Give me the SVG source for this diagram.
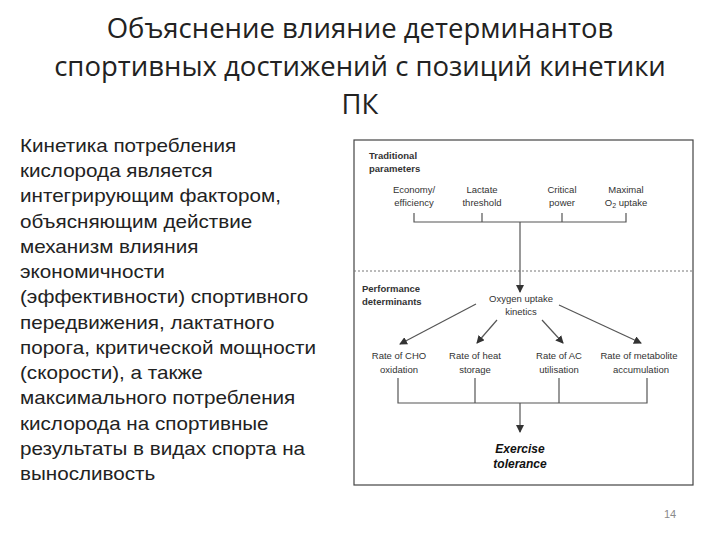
<svg xmlns="http://www.w3.org/2000/svg" width="720" height="540" viewBox="0 0 720 540">
<style>
.t{font-family:"Open Sans","DejaVu Sans",sans-serif;font-size:27.5px;fill:#222;text-anchor:middle}
.b{font-family:"Liberation Sans",Arial,sans-serif;font-size:17.5px;fill:#222}
.d{font-family:"Liberation Sans",Arial,sans-serif;font-size:9.5px;fill:#333;text-anchor:middle}
.h{font-family:"Liberation Sans",Arial,sans-serif;font-size:9.5px;font-weight:bold;fill:#333}
.e{font-family:"Liberation Sans",Arial,sans-serif;font-size:12px;font-weight:bold;font-style:italic;fill:#111;text-anchor:middle}
.l{stroke:#555;stroke-width:1.2;fill:none}
</style>
<defs><marker id="a" markerWidth="8" markerHeight="8" refX="7" refY="4" orient="auto" markerUnits="userSpaceOnUse"><path d="M0,0 L8,4 L0,8 Z" fill="#333"/></marker></defs>
<rect width="720" height="540" fill="#fff"/>
<g id="title">
<text class="t" x="360" y="38">Объяснение влияние детерминантов</text>
<text class="t" x="360" y="76">спортивных достижений с позиций кинетики</text>
<text class="t" x="360" y="114">ПК</text>
</g>
<g id="body" transform="translate(20,0) scale(1.18,1)">
<text class="b" x="0" y="152">Кинетика потребления</text>
<text class="b" x="0" y="177">кислорода является</text>
<text class="b" x="0" y="202">интегрирующим фактором,</text>
<text class="b" x="0" y="228">объясняющим действие</text>
<text class="b" x="0" y="253">механизм влияния</text>
<text class="b" x="0" y="278">экономичности</text>
<text class="b" x="0" y="303">(эффективности) спортивного</text>
<text class="b" x="0" y="329">передвижения, лактатного</text>
<text class="b" x="0" y="354">порога, критической мощности</text>
<text class="b" x="0" y="379">(скорости), а также</text>
<text class="b" x="0" y="404">максимального потребления</text>
<text class="b" x="0" y="430">кислорода на спортивные</text>
<text class="b" x="0" y="455">результаты в видах спорта на</text>
<text class="b" x="0" y="480">выносливость</text>
</g>
<rect x="354" y="140" width="339" height="345" fill="none" stroke="#444" stroke-width="1.2"/>
<line x1="354" y1="271" x2="693" y2="271" stroke="#777" stroke-dasharray="2,2"/>
<g id="traditional"><text class="h" x="369" y="159">Traditional</text><text class="h" x="369" y="172">parameters</text></g>
<g id="performance"><text class="h" x="362" y="292">Performance</text><text class="h" x="362" y="305">determinants</text></g>
<g id="economy"><text class="d" x="414" y="193">Economy/</text><text class="d" x="414" y="206">efficiency</text></g>
<g id="lactate"><text class="d" x="482" y="193">Lactate</text><text class="d" x="482" y="206">threshold</text></g>
<g id="critical"><text class="d" x="562" y="193">Critical</text><text class="d" x="562" y="206">power</text></g>
<g id="maximal"><text class="d" x="626" y="193">Maximal</text><text class="d" x="626" y="206">O<tspan font-size="7" dy="2">2</tspan><tspan dy="-2"> uptake</tspan></text></g>
<g id="oxygen"><text class="d" x="521" y="302">Oxygen uptake</text><text class="d" x="521" y="315">kinetics</text></g>
<g id="cho"><text class="d" x="399" y="359">Rate of CHO</text><text class="d" x="399" y="373">oxidation</text></g>
<g id="heat"><text class="d" x="475" y="359">Rate of heat</text><text class="d" x="475" y="373">storage</text></g>
<g id="ac"><text class="d" x="559" y="359">Rate of AC</text><text class="d" x="559" y="373">utilisation</text></g>
<g id="metabolite"><text class="d" x="639" y="359">Rate of metabolite</text><text class="d" x="641" y="373">accumulation</text></g>
<g id="exercise"><text class="e" x="520" y="453">Exercise</text><text class="e" x="520" y="468">tolerance</text></g>
<g id="connectors">
<path class="l" d="M414,213 V222 H626 V213 M482,213 V222 M562,213 V222"/>
<line class="l" x1="520" y1="222" x2="520" y2="292" marker-end="url(#a)"/>
<line class="l" x1="476" y1="304" x2="400" y2="344" marker-end="url(#a)"/>
<line class="l" x1="497" y1="320" x2="477" y2="343" marker-end="url(#a)"/>
<line class="l" x1="542" y1="320" x2="563" y2="343" marker-end="url(#a)"/>
<line class="l" x1="559" y1="305" x2="641" y2="343" marker-end="url(#a)"/>
<path class="l" d="M398,378 V403 H647 V378 M475,378 V403 M559,378 V403"/>
<line class="l" x1="520" y1="403" x2="520" y2="432" marker-end="url(#a)"/>
</g>
<text x="670" y="518" font-family="Liberation Sans,Arial,sans-serif" font-size="11" fill="#8a8a8a" text-anchor="middle">14</text>
</svg>
